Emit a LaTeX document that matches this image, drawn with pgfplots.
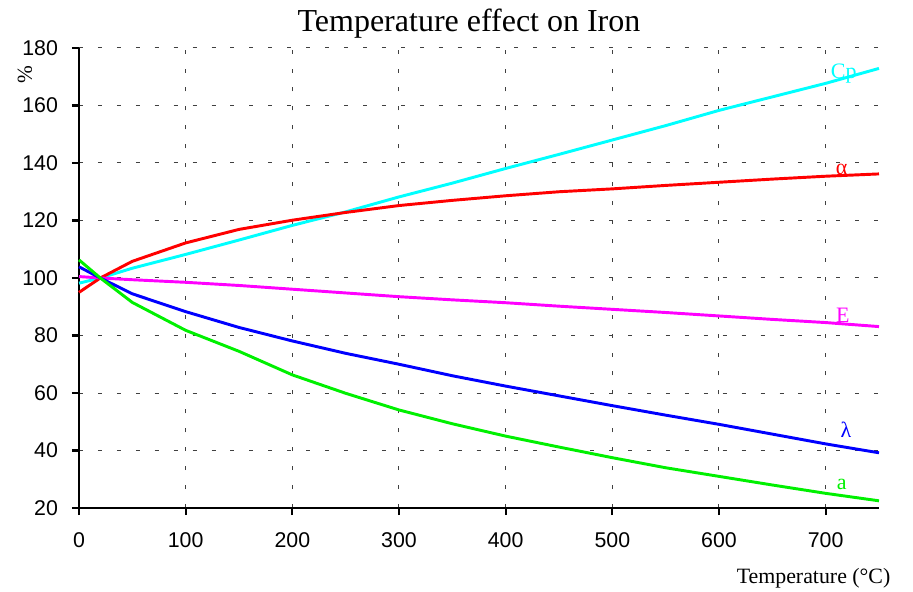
\documentclass[border=0pt]{standalone}
\usepackage{fontspec}
\setmainfont{Liberation Serif}
\setsansfont{Liberation Sans}
\usepackage{pgfplots}
\pgfplotsset{compat=1.18}
\definecolor{cpcol}{RGB}{0,255,255}
\definecolor{alcol}{RGB}{255,0,0}
\definecolor{ecol}{RGB}{255,0,255}
\definecolor{lacol}{RGB}{0,0,255}
\definecolor{acol}{RGB}{0,240,0}

\begin{document}
\begin{tikzpicture}
\begin{axis}[
  scale only axis, width=600pt, height=345pt,
  xmin=0, xmax=750, ymin=20, ymax=180,
  xtick={0,100,...,700}, ytick={20,40,...,180},
  axis lines=left, axis line style={-, line width=1.6pt},
  tick align=outside, major tick length=5.25pt,
  tick style={black, line width=1.6pt},
  grid=major,
  grid style={black!75, line width=0.75pt, dash pattern=on 3pt off 11.2pt},
  ticklabel style={font=\sffamily\fontsize{16}{18}\selectfont},
  yticklabel style={xshift=-7pt},
  xticklabel style={yshift=-10pt},
  /pgf/number format/assume math mode=true,
  clip=false,
]
% Cp
\addplot[cpcol, line width=2.2pt] coordinates {
  (0,98.2)(20,100)(50,103.4)(100,108.2)(150,113.2)(200,118.3)(250,123)
  (300,128.2)(350,133)(400,138.1)(450,143)(500,148)(550,153)(600,158.3)
  (650,163)(700,167.7)(750,172.9)};
% alpha
\addplot[alcol, line width=2.2pt] coordinates {
  (0,95)(20,100)(50,105.8)(100,112.2)(150,116.9)(200,120.1)(250,122.8)
  (300,125.2)(350,127)(400,128.6)(450,130)(500,131)(550,132.2)(600,133.3)
  (650,134.4)(700,135.4)(750,136.2)};
% E
\addplot[ecol, line width=2.2pt] coordinates {
  (0,100.5)(20,100)(50,99.4)(100,98.5)(150,97.4)(200,96.1)(250,94.8)
  (300,93.5)(350,92.4)(400,91.4)(450,90.2)(500,89.1)(550,88)(600,86.8)
  (650,85.6)(700,84.5)(750,83.1)};
% lambda
\addplot[lacol, line width=2.2pt] coordinates {
  (0,103.9)(20,100)(50,94.5)(100,88.3)(150,82.8)(200,78.1)(250,73.8)
  (300,70)(350,66)(400,62.4)(450,59)(500,55.6)(550,52.3)(600,49.1)
  (650,45.7)(700,42.3)(750,39.2)};
% a
\addplot[acol, line width=2.2pt] coordinates {
  (0,106.3)(20,100)(50,91.5)(100,81.8)(150,74.5)(200,66.3)(250,59.9)
  (300,54.1)(350,49.3)(400,45)(450,41.2)(500,37.5)(550,34)(600,31)
  (650,28)(700,25.1)(750,22.5)};

\node[text=cpcol, font=\fontsize{16.5}{18}\selectfont] at (axis cs:717,171.2) {Cp};
\node[text=alcol, font=\fontsize{16.5}{18}\selectfont] at (axis cs:715,137.8) {α};
\node[text=ecol, font=\fontsize{16.5}{18}\selectfont] at (axis cs:716,87.1) {E};
\node[text=lacol, font=\fontsize{16.5}{18}\selectfont] at (axis cs:719,47.1) {λ};
\node[text=acol, font=\fontsize{16.5}{18}\selectfont] at (axis cs:715,28.3) {a};

\node[anchor=base, font=\fontsize{24}{28}\selectfont] at (axis cs:365.6,185.6) {Temperature effect on Iron};
\node[anchor=base east, font=\fontsize{16.4}{19}\selectfont] at (axis cs:765,-6.1) {Temperature (°C)};
\node[rotate=90, font=\fontsize{16}{18}\selectfont] at (axis cs:-50.6,170.6) {\%};

\coordinate (o) at (rel axis cs:0,0);
\end{axis}
\pgfresetboundingbox
\path (o) ++(-59.25pt,-63pt) rectangle ++(684.75pt,444pt);
\end{tikzpicture}
\end{document}
